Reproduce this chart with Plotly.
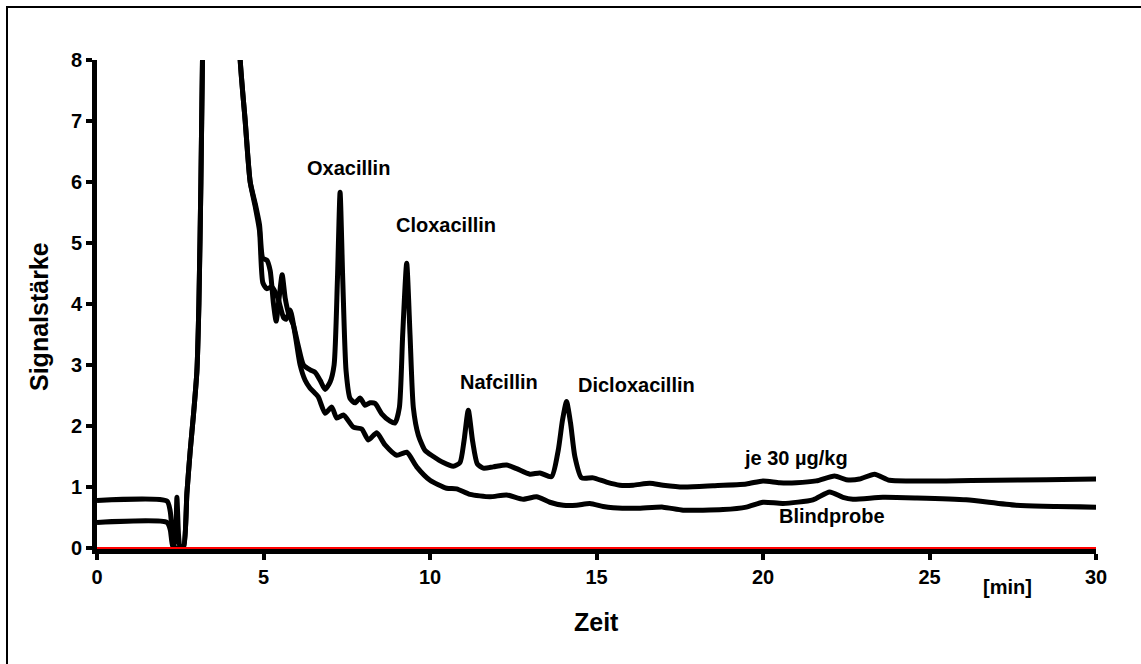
import plotly.graph_objects as go

# ---- data (time in min, signal) ----
sample_t = [0, 2.1, 2.2, 2.3, 2.36, 2.4, 2.45, 2.5, 2.6, 2.7, 2.8, 2.9, 3.0, 3.06, 3.12, 3.18, 3.3, 3.7, 4.1,
            4.3, 4.45, 4.6, 4.75, 4.88, 4.98, 5.1, 5.2, 5.3, 5.38, 5.48, 5.56, 5.65, 5.75, 5.9, 6.05,
            6.2, 6.4, 6.55, 6.7, 6.85, 7.0, 7.12, 7.22, 7.3, 7.38, 7.48, 7.6, 7.75, 7.9, 8.05, 8.2,
            8.35, 8.55, 8.8, 8.95, 9.08, 9.18, 9.3, 9.4, 9.5, 9.65, 9.85, 10.1, 10.4, 10.7, 10.9,
            11.02, 11.15, 11.28, 11.42, 11.6, 11.9, 12.3, 12.6, 13.0, 13.3, 13.65, 13.85, 13.98,
            14.1, 14.22, 14.35, 14.55, 14.9, 15.3, 15.7, 16.1, 16.6, 17.0, 17.6, 18.5, 19.5, 20.0,
            20.5, 21.0, 21.6, 22.15, 22.5, 22.9, 23.35, 23.8, 24.5, 25.5, 27, 28.5, 30]
sample_y = [0.78, 0.77, 0.6, 0.02, 0.2, 0.83, 0.2, 0.0, 0.02, 0.9, 1.6, 2.2, 2.9, 4.0, 6.0, 8.5, 12, 14, 11,
            8.0, 7.0, 6.0, 5.65, 5.3, 4.75, 4.72, 4.55, 4.0, 3.72, 4.15, 4.48, 4.1, 3.85, 3.65, 3.3,
            3.0, 2.92, 2.88, 2.75, 2.6, 2.72, 3.0, 4.4, 5.83, 4.4, 2.9, 2.45, 2.38, 2.46, 2.34, 2.38,
            2.37, 2.2, 2.08, 2.05, 2.3, 3.5, 4.67, 3.5, 2.3, 1.85, 1.6, 1.5, 1.4, 1.34, 1.4,
            1.75, 2.26, 1.75, 1.38, 1.31, 1.33, 1.36, 1.3, 1.21, 1.23, 1.17, 1.6, 2.1,
            2.4, 2.05, 1.5, 1.15, 1.15, 1.08, 1.03, 1.03, 1.06, 1.03, 1.0, 1.02, 1.05, 1.1,
            1.07, 1.07, 1.1, 1.18, 1.12, 1.13, 1.21, 1.11, 1.1, 1.1, 1.11, 1.12, 1.13]

blank_t = [0, 2.1, 2.2, 2.28, 2.4, 2.5, 2.6, 2.7, 2.8, 2.9, 3.0, 3.06, 3.12, 3.18, 3.3, 3.7, 4.1,
           4.3, 4.45, 4.6, 4.75, 4.88, 4.98, 5.1, 5.25, 5.43, 5.6, 5.68, 5.8, 5.95, 6.1, 6.25,
           6.4, 6.64, 6.85, 7.05, 7.2, 7.4, 7.7, 7.95, 8.15, 8.4, 8.65, 9.0, 9.3, 9.6, 10.0,
           10.5, 10.8, 11.2, 11.8, 12.3, 12.8, 13.2, 13.6, 14.0, 14.4, 14.8, 15.2, 15.5, 16.2,
           17.0, 17.6, 18.8, 19.5, 20.0, 20.6, 21.5, 22.0, 22.4, 22.7, 23.6, 24.6, 26.1, 27.6, 30]
blank_y = [0.42, 0.42, 0.3, 0.02, 0.0, 0.0, 0.02, 0.9, 1.6, 2.2, 2.9, 4.0, 6.0, 8.5, 12, 14, 11,
           8.0, 7.0, 6.0, 5.6, 5.2, 4.35, 4.25, 4.28, 4.1, 3.78, 3.75, 3.9, 3.5, 3.0, 2.75,
           2.62, 2.48, 2.21, 2.31, 2.13, 2.18, 1.98, 1.95, 1.77, 1.89, 1.69, 1.52, 1.57, 1.33, 1.11,
           0.98, 0.97, 0.88, 0.84, 0.87, 0.8, 0.84, 0.75, 0.7, 0.7, 0.73, 0.68, 0.66, 0.65,
           0.67, 0.62, 0.63, 0.67, 0.75, 0.73, 0.79, 0.92, 0.83, 0.8, 0.83, 0.82, 0.79, 0.7, 0.67]

x_ticks = [0, 5, 10, 15, 20, 25, 30]
y_ticks = [0, 1, 2, 3, 4, 5, 6, 7, 8]

peak_labels = ["Oxacillin", "Cloxacillin", "Nafcillin", "Dicloxacillin", "je 30 µg/kg", "Blindprobe"]
peak_label_x = [7.54, 10.48, 12.07, 16.19, 20.99, 22.07]
peak_label_y = [6.23, 5.30, 2.72, 2.67, 1.47, 0.52]

FONT = "Liberation Sans, Arial, sans-serif"

# plot-area pixel geometry (for paper-coordinate placement of labels/frame)
L, R, T, B = 97, 1096, 60, 548
W, H = R - L, B - T


def px(xp):
    return (xp - L) / W


def py(yp):
    return (B - yp) / H


fig = go.Figure()
fig.add_trace(go.Scatter(x=blank_t, y=blank_y, mode="lines",
                         line=dict(color="black", width=5, shape="spline", smoothing=0.6),
                         showlegend=False, hoverinfo="skip"))
fig.add_trace(go.Scatter(x=sample_t, y=sample_y, mode="lines",
                         line=dict(color="black", width=5, shape="spline", smoothing=0.6),
                         showlegend=False, hoverinfo="skip"))

annotations = []
for txt, ax_, ay_ in zip(peak_labels, peak_label_x, peak_label_y):
    annotations.append(dict(x=ax_, y=ay_, xref="x", yref="y", text=f"<b>{txt}</b>",
                            showarrow=False, xanchor="center", yanchor="middle",
                            font=dict(family=FONT, size=20, color="black")))
annotations.append(dict(x=px(1007), y=py(587), xref="paper", yref="paper", text="<b>[min]</b>",
                        showarrow=False, xanchor="center", yanchor="middle",
                        font=dict(family=FONT, size=20, color="black")))
annotations.append(dict(x=px(596), y=py(622), xref="paper", yref="paper",
                        text="<b>Zeit</b>", showarrow=False, xanchor="center", yanchor="middle",
                        font=dict(family=FONT, size=25, color="black")))
annotations.append(dict(x=px(39), y=py(317), xref="paper", yref="paper",
                        text="<b>Signalstärke</b>", showarrow=False, textangle=-90,
                        xanchor="center", yanchor="middle",
                        font=dict(family=FONT, size=25, color="black")))

shapes = [
    # outer frame (left and top edges visible)
    dict(type="rect", xref="paper", yref="paper",
         x0=px(7), x1=px(1170), y0=py(700), y1=py(7),
         line=dict(color="black", width=2), fillcolor="rgba(0,0,0,0)", layer="below"),
    # red baseline
    dict(type="line", xref="paper", yref="paper", x0=0, x1=1, y0=0, y1=0,
         line=dict(color="#ff0000", width=2), layer="above"),
]

fig.update_layout(
    width=1141, height=664,
    margin=dict(l=L, r=1141 - R, t=T, b=664 - B),
    paper_bgcolor="white", plot_bgcolor="white",
    font=dict(family=FONT, color="black"),
    annotations=annotations, shapes=shapes,
    xaxis=dict(range=[0, 30], tickvals=x_ticks, ticktext=[f"<b>{v}</b>" for v in x_ticks],
               showgrid=False, zeroline=False, showline=True, linecolor="black", linewidth=6,
               ticks="outside", ticklen=6, tickwidth=4, tickcolor="black",
               tickfont=dict(family=FONT, size=20, color="black"), layer="below traces"),
    yaxis=dict(range=[0, 8], tickvals=y_ticks, ticktext=[f"<b>{v}</b>" for v in y_ticks],
               showgrid=False, zeroline=False, showline=True, linecolor="black", linewidth=5,
               ticks="outside", ticklen=6, tickwidth=4, tickcolor="black",
               tickfont=dict(family=FONT, size=20, color="black"), layer="below traces"),
)

fig.write_html("out.html")
